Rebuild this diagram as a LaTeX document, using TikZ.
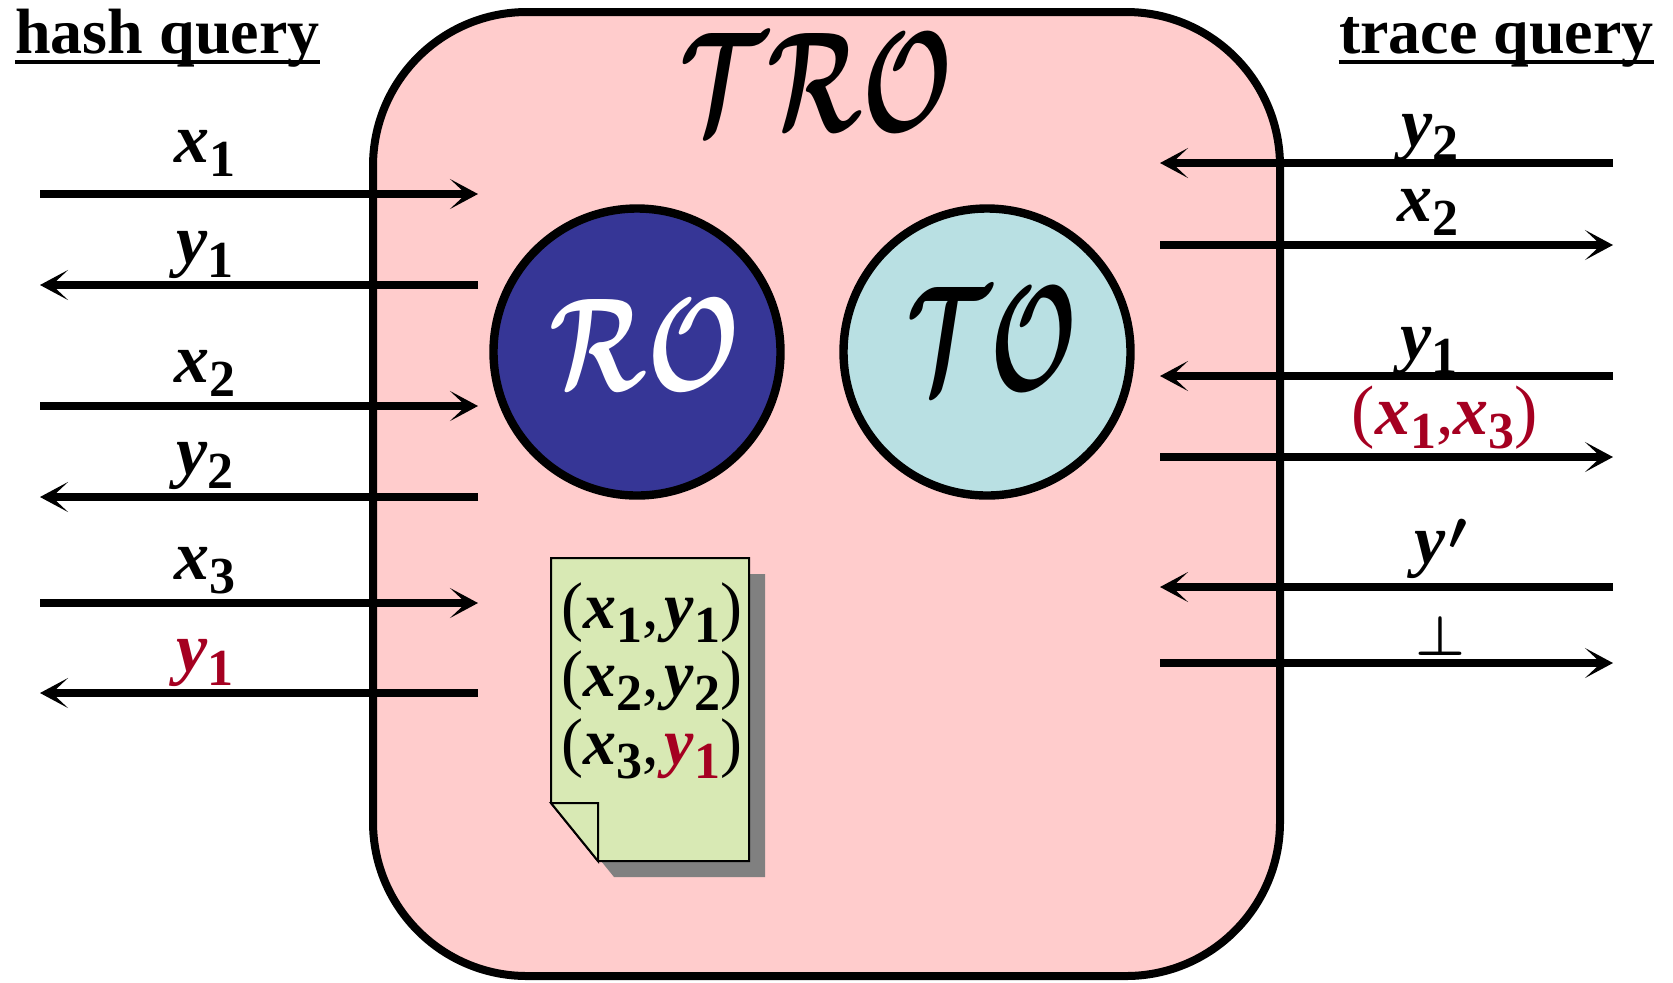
\documentclass[tikz,border=0pt]{standalone}
\usepackage{fontspec}
\setmainfont{Liberation Serif}
\usepackage{amsmath}
\usetikzlibrary{arrows.meta}
\definecolor{pinkbg}{RGB}{255,204,204}
\definecolor{roblue}{RGB}{54,54,150}
\definecolor{toteal}{RGB}{185,224,227}
\definecolor{docgreen}{RGB}{216,233,180}
\definecolor{shadowgray}{RGB}{128,128,128}
\definecolor{darkred}{RGB}{165,0,33}
\newcommand{\vlet}[1]{\textbf{\textit{#1}}}
\newcommand{\vsub}[1]{\raisebox{-7pt}{\fontsize{26}{26}\selectfont\bfseries #1}}
\newcommand{\vv}[2]{\vlet{#1}\vsub{#2}}
\newcommand{\botsym}{\resizebox{25pt}{!}{$\boldsymbol{\perp}$}}
\newcommand{\primesym}{\kern1.5pt\raisebox{7pt}{\resizebox{!}{15pt}{$\boldsymbol{\prime}$}}}
\tikzset{
  qarrow/.style={line width=4.2pt, -{Stealth[length=14pt,width=15pt,inset=8pt]}},
  lab/.style={anchor=base, inner sep=0pt, font=\fontsize{35}{35}\selectfont},
  doctext/.style={anchor=base west, inner sep=0pt, font=\fontsize{33}{33}\selectfont},
  header/.style={inner sep=0pt, font=\fontsize{32}{32}\selectfont\bfseries},
  orb/.style={circle, draw, line width=4.2pt, minimum size=143.5pt, inner sep=0pt},
}
\begin{document}
\begin{tikzpicture}[x=0.5pt,y=-0.5pt]
\useasboundingbox (0,0) rectangle (1673,982);
% main box
\draw[line width=4pt, fill=pinkbg, rounded corners=77pt] (373,12) rectangle (1280,976);
\node[anchor=center, inner sep=0pt] (tro) at (816,82) {\resizebox{136.5pt}{49pt}{\boldmath$\mathcal{TRO}$}};
% oracles
\node[orb, fill=roblue] (ro) at (637,352) {};
\node[orb, fill=toteal] (to) at (987,352) {};
\node[inner sep=0pt, text=white] (rot) at (645,345) {\resizebox{95pt}{45.5pt}{\boldmath$\mathcal{RO}$}};
\node[inner sep=0pt] (tot) at (992,339) {\resizebox{85.5pt}{51.5pt}{\boldmath$\mathcal{TO}$}};
% document
\fill[shadowgray] (567,574) -- (765,574) -- (765,877) -- (614,877) -- (567,819) -- cycle;
\draw[line width=1pt, fill=docgreen] (551,558) -- (749,558) -- (749,861) -- (598,861) -- (551,803) -- cycle;
\draw[line width=1pt, fill=docgreen] (551,803) -- (598,803) -- (598,861) -- cycle;
\node[doctext] (d1) at (561,628) {(\vv{x}{1},\kern3pt\vv{y}{1})};
\node[doctext] (d2) at (561,696) {(\vv{x}{2},\kern3pt\vv{y}{2})};
\node[doctext] (d3) at (561,764) {(\vv{x}{3},\kern3pt\textcolor{darkred}{\vv{y}{1}})};
% headers
\node[header, anchor=base west] (hq) at (15,53) {hash query};
\draw[line width=1.6pt] ([yshift=-4.5pt]hq.base west) -- ([yshift=-4.5pt]hq.base east);
\node[header, anchor=base east] (tq) at (1654,53) {trace query};
\draw[line width=1.6pt] ([yshift=-4.5pt]tq.base west) -- ([yshift=-4.5pt]tq.base east);
% coordinates
\coordinate (Lao) at (40,194);  \coordinate (Lai) at (478,194);
\coordinate (Lbo) at (40,285);  \coordinate (Lbi) at (478,285);
\coordinate (Lco) at (40,406);  \coordinate (Lci) at (478,406);
\coordinate (Ldo) at (40,497);  \coordinate (Ldi) at (478,497);
\coordinate (Leo) at (40,603);  \coordinate (Lei) at (478,603);
\coordinate (Lfo) at (40,693);  \coordinate (Lfi) at (478,693);
\coordinate (Rai) at (1160,163); \coordinate (Rao) at (1613,163);
\coordinate (Rbi) at (1160,245); \coordinate (Rbo) at (1613,245);
\coordinate (Rci) at (1160,376); \coordinate (Rco) at (1613,376);
\coordinate (Rdi) at (1160,457); \coordinate (Rdo) at (1613,457);
\coordinate (Rei) at (1160,587); \coordinate (Reo) at (1613,587);
\coordinate (Rfi) at (1160,663); \coordinate (Rfo) at (1613,663);
% left arrows
\draw[qarrow] (Lao) -- (Lai);
\draw[qarrow] (Lbi) -- (Lbo);
\draw[qarrow] (Lco) -- (Lci);
\draw[qarrow] (Ldi) -- (Ldo);
\draw[qarrow] (Leo) -- (Lei);
\draw[qarrow] (Lfi) -- (Lfo);
% right arrows
\draw[qarrow] (Rao) -- (Rai);
\draw[qarrow] (Rbi) -- (Rbo);
\draw[qarrow] (Rco) -- (Rci);
\draw[qarrow] (Rdi) -- (Rdo);
\draw[qarrow] (Reo) -- (Rei);
\draw[qarrow] (Rfi) -- (Rfo);
% left labels
\node[lab] (lx1) at (205,162) {\vv{x}{1}};
\node[lab] (ly1) at (205,263) {\vv{y}{1}};
\node[lab] (lx2) at (205,382) {\vv{x}{2}};
\node[lab] (ly2) at (205,474) {\vv{y}{2}};
\node[lab] (lx3) at (205,579) {\vv{x}{3}};
\node[lab, text=darkred] (ly1r) at (205,671) {\vv{y}{1}};
% right labels
\node[lab] (ry2) at (1430,146) {\vv{y}{2}};
\node[lab] (rx2) at (1428,221) {\vv{x}{2}};
\node[lab] (ry1) at (1429,359) {\vv{y}{1}};
\node[lab, text=darkred] (rx13) at (1445,434) {(\vv{x}{1},\vv{x}{3})};
\node[lab] (ryp) at (1441,563) {\vlet{y}\primesym};
\node[lab] (rbot) at (1440,655) {\botsym};
\end{tikzpicture}
\end{document}
